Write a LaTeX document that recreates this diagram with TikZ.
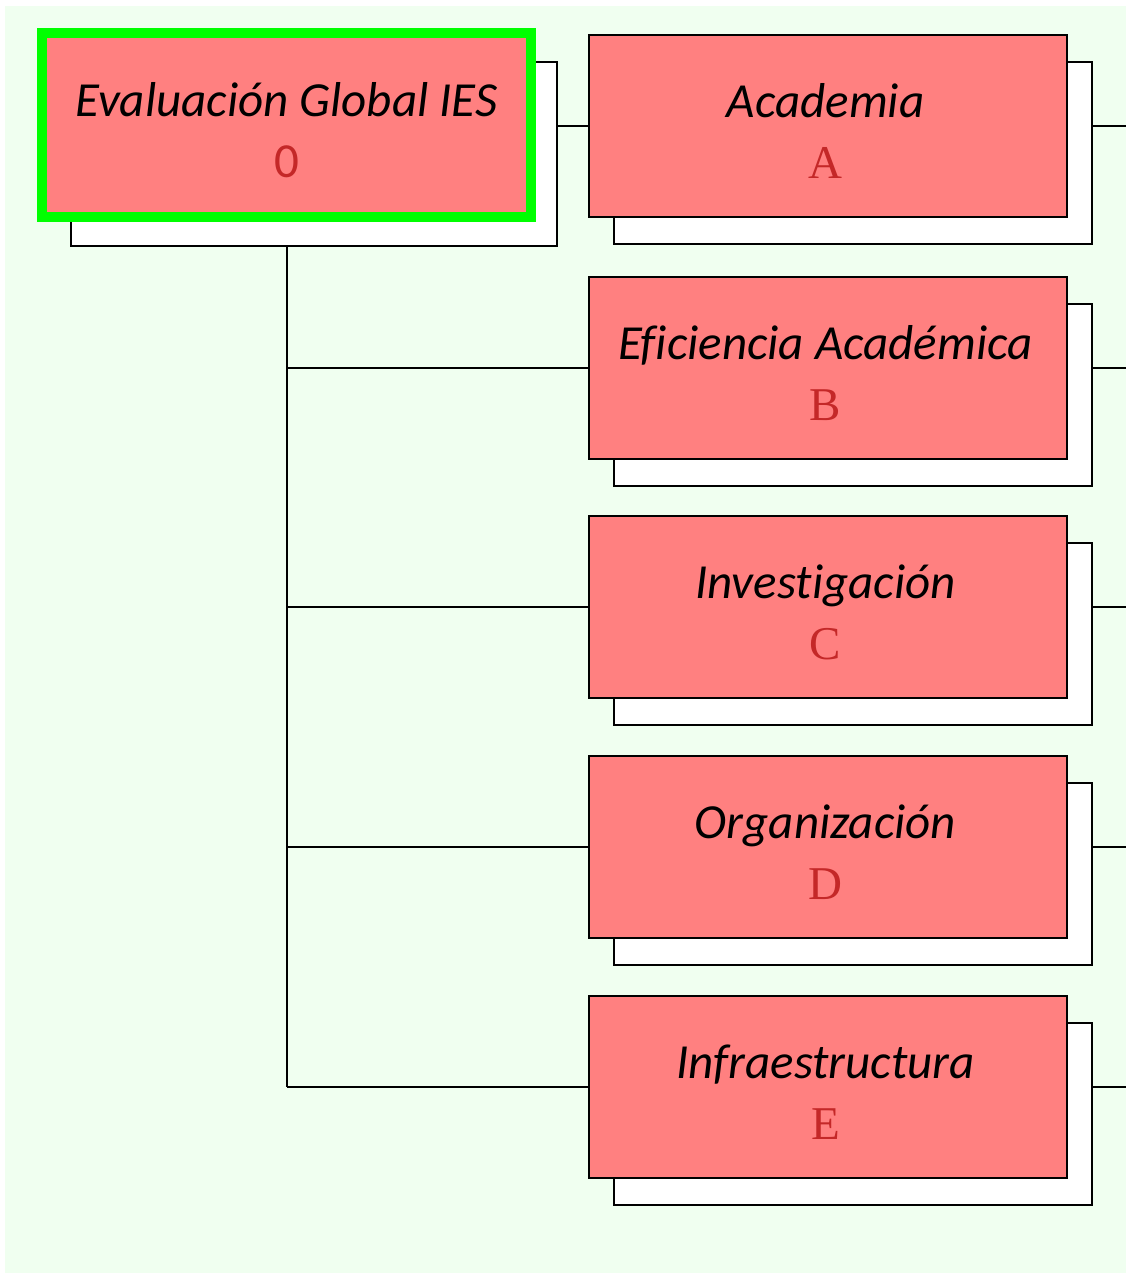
\documentclass[tikz,border=0pt]{standalone}
\usepackage{fontspec}
\setmainfont{Carlito}[Ligatures=NoCommon]
\newfontfamily\letterfont{Liberation Serif}
\usetikzlibrary{calc}
\definecolor{bgc}{HTML}{F0FFF0}
\definecolor{boxc}{HTML}{FF8080}
\definecolor{lettc}{HTML}{C42828}
\definecolor{rootb}{HTML}{00FF00}
\begin{document}
\begin{tikzpicture}[x=0.5pt,y=-0.5pt,
 box/.style={rectangle, draw=black, fill=boxc, line width=1pt, minimum width=239pt, minimum height=91pt, inner sep=0pt},
 shadowbox/.style={rectangle, draw=black, fill=white, line width=1pt, minimum width=239pt, minimum height=91pt, inner sep=0pt},
 rootbox/.style={rectangle, draw=rootb, fill=boxc, line width=5pt, minimum width=244.5pt, minimum height=92pt, inner sep=0pt},
 nametext/.style={font=\fontsize{24.5}{29}\selectfont\itshape, anchor=base, inner sep=0pt},
 lettertext/.style={font=\letterfont\fontsize{23.5}{28}\selectfont, text=lettc, anchor=base, inner sep=0pt},
 rootletter/.style={font=\fontsize{24.5}{29}\selectfont, text=lettc, anchor=base, inner sep=0pt},
 conn/.style={draw=black, line width=1pt}]
\useasboundingbox (0,0) rectangle (1126,1273);
\fill[white] (0,0) rectangle (1126,1273);
\fill[bgc] (5,6) rectangle (1126,1273);

% shadows
\node[shadowbox, minimum width=243pt, minimum height=92pt] (rootsh) at (314,154.5) {};
\foreach \n/\y in {A/126.5,B/367.5,C/607,D/846.5,E/1086.5}{
  \node[shadowbox] (\n sh) at (852.5,\y+27) {};
}
% free ends of the connectors leaving to the right
\coordinate (rA) at (1126,126.5);
\coordinate (rB) at (1126,367.5);
\coordinate (rC) at (1126,607);
\coordinate (rD) at (1126,846.5);
\coordinate (rE) at (1126,1086.5);

% boxes
\node[rootbox] (root) at (286.5,125.5) {};
\foreach \n/\y in {A/126.5,B/367.5,C/607,D/846.5,E/1086.5}{
  \node[box] (\n) at (827.5,\y) {};
}

\draw[conn] (root.center |- rootsh.south) -- (root.center |- E.west);
\draw[conn] (rootsh.east |- A.west) -- (A.west);
\foreach \n in {B,C,D,E}{
  \draw[conn] (root.center |- \n.west) -- (\n.west);
}
\foreach \n in {A,B,C,D,E}{
  \draw[conn] (\n sh.east |- \n.east) -- (r\n);
}

% texts
\node[nametext] (rootn) at ($(root.center)+(0,-8.5)$) {Evaluación Global IES};
\node[rootletter] (rootl) at ($(root.center)+(0,52.5)$) {0};
\foreach \n/\t in {A/Academia,B/Eficiencia Académica,C/Investigación,D/Organización,E/Infraestructura}{
  \node[nametext] (\n n) at ($(\n.center)+(-2,-8.5)$) {\t};
  \node[lettertext] (\n l) at ($(\n.center)+(-2,52.5)$) {\n};
}
\end{tikzpicture}
\end{document}
